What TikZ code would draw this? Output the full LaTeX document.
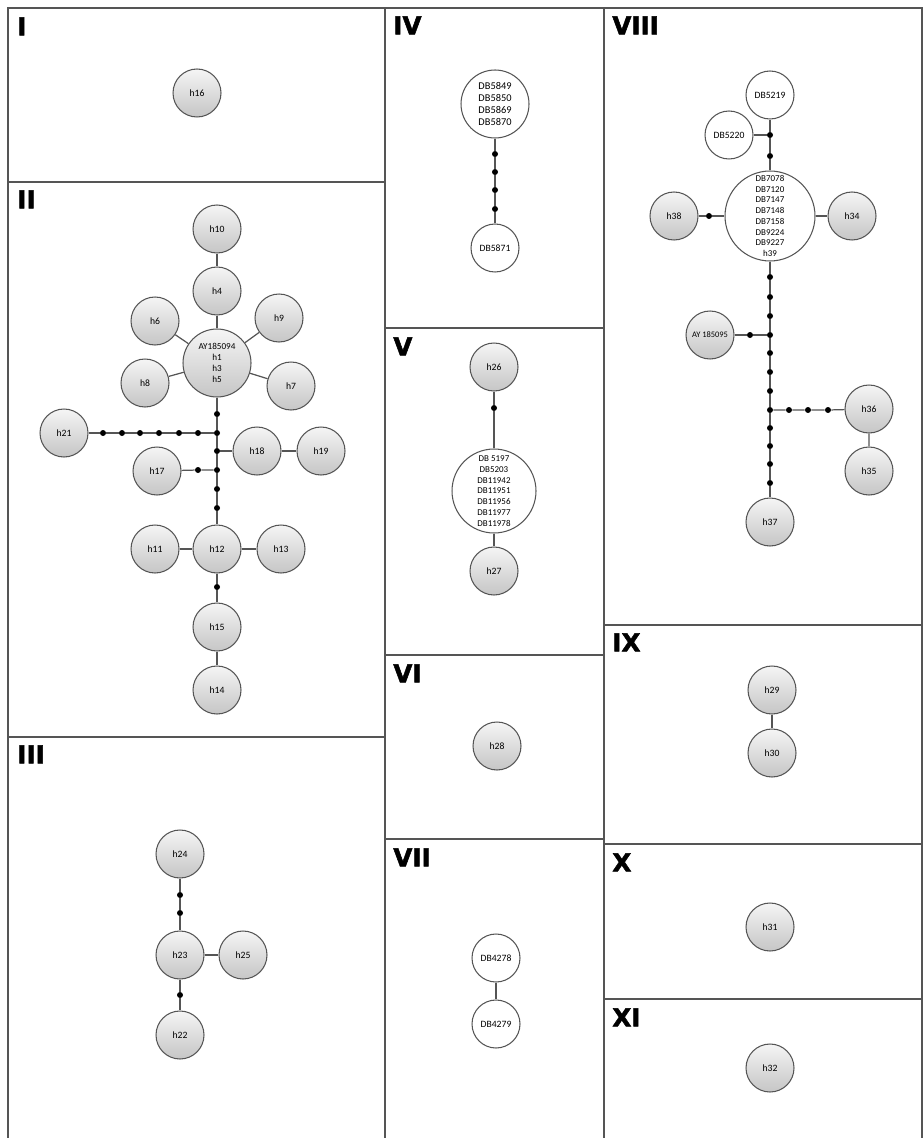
\documentclass[tikz,border=0pt]{standalone}
\usepackage{fontspec}
\setmainfont{Carlito}
\newfontfamily\panelfont[FakeBold=2]{DejaVu Sans Bold}
\usepackage{tikz}
\usetikzlibrary{positioning}
\usepackage{xcolor}

\definecolor{edgegray}{HTML}{555555}
\tikzset{
  frame/.style={draw=edgegray, line width=0.75pt},
  link/.style={draw=edgegray, line width=0.7pt},
  hap/.style={circle, draw=edgegray, line width=0.6pt, top color=gray!8,
    bottom color=gray!45, minimum size=0.96cm, inner sep=0pt,
    font=\fontsize{5.5}{6.5}\selectfont},
  seq/.style={circle, draw=edgegray, line width=0.6pt, fill=white,
    minimum size=0.96cm, inner sep=0pt, align=center,
    font=\fontsize{5.5}{6.5}\selectfont},
  mut/.style={circle, fill=black, minimum size=0.12cm, inner sep=0pt},
  numlab/.style={anchor=north west, inner sep=0pt,
    font=\panelfont\fontsize{14}{14}\selectfont}
}

\begin{document}
\begin{tikzpicture}[x=0.02cm, y=-0.02cm]
      \useasboundingbox (0,0) rectangle (923,1138);

      \draw[frame] (8,1138) -- (8,8) -- (922,8) -- (922,1138);
      \draw[frame] (385,8) -- (385,1138);
      \draw[frame] (604,8) -- (604,1138);
      \draw[frame] (8,182) -- (385,182);
      \draw[frame] (8,737) -- (385,737);
      \draw[frame] (385,328) -- (604,328);
      \draw[frame] (385,655) -- (604,655);
      \draw[frame] (385,839) -- (604,839);
      \draw[frame] (604,625) -- (922,625);
      \draw[frame] (604,844) -- (922,844);
      \draw[frame] (604,999) -- (922,999);

      \node[numlab] (lI) at (17,17) {I};
      \node[numlab] (lII) at (17,190) {II};
      \node[numlab] (lIII) at (17,745) {III};
      \node[numlab] (lIV) at (393,16) {IV};
      \node[numlab] (lV) at (393,337) {V};
      \node[numlab] (lVI) at (393,664) {VI};
      \node[numlab] (lVII) at (393,848) {VII};
      \node[numlab] (lVIII) at (612,16) {VIII};
      \node[numlab] (lIX) at (612,633) {IX};
      \node[numlab] (lX) at (612,853) {X};
      \node[numlab] (lXI) at (612,1008) {XI};

      % I
      \node[hap] (h16) at (197,93) {h16};

      % II
      \node[hap] (h10) at (217,229) {h10};
      \node[hap] (h4) at (217,291) {h4};
      \node[hap] (h6) at (155,321) {h6};
      \node[hap] (h9) at (279,318) {h9};
      \node[hap, minimum size=1.36cm, align=center,
        font=\fontsize{5.2}{6.2}\selectfont] (hub2) at (217,363)
        {AY185094\\h1\\h3\\h5};
      \node[hap] (h8) at (145,383) {h8};
      \node[hap] (h7) at (291,386) {h7};
      \node[mut] (m1) at (217,414) {};
      \node[mut] (m2) at (217,433) {};
      \node[mut] (m3) at (217,451) {};
      \node[mut] (m4) at (217,470) {};
      \node[mut] (m5) at (217,489) {};
      \node[mut] (m6) at (217,508) {};
      \node[hap] (h12) at (217,549) {h12};
      \node[hap] (h21) at (64,433) {h21};
      \node[mut] (n1) at (103,433) {};
      \node[mut] (n2) at (122,433) {};
      \node[mut] (n3) at (140,433) {};
      \node[mut] (n4) at (159,433) {};
      \node[mut] (n5) at (179,433) {};
      \node[mut] (n6) at (198,433) {};
      \node[hap] (h18) at (257,451) {h18};
      \node[hap] (h19) at (321,451) {h19};
      \node[hap] (h17) at (157,471) {h17};
      \node[mut] (n7) at (198,470) {};
      \node[hap] (h11) at (155,549) {h11};
      \node[hap] (h13) at (281,549) {h13};
      \node[mut] (m7) at (217,587) {};
      \node[hap] (h15) at (217,627) {h15};
      \node[hap] (h14) at (217,690) {h14};
      \draw[link] (h10) -- (h4) -- (hub2);
      \draw[link] (h6) -- (hub2);
      \draw[link] (h9) -- (hub2);
      \draw[link] (h8) -- (hub2);
      \draw[link] (h7) -- (hub2);
      \draw[link] (hub2) -- (m1) -- (m2) -- (m3) -- (m4) -- (m5) -- (m6) -- (h12);
      \draw[link] (h21) -- (n1) -- (n2) -- (n3) -- (n4) -- (n5) -- (n6) -- (m2);
      \draw[link] (m3) -- (h18) -- (h19);
      \draw[link] (h17) -- (n7) -- (m4);
      \draw[link] (h11) -- (h12) -- (h13);
      \draw[link] (h12) -- (m7) -- (h15) -- (h14);

      % III
      \node[hap] (h24) at (180,854) {h24};
      \node[mut] (p1) at (180,895) {};
      \node[mut] (p2) at (180,913) {};
      \node[hap] (h23) at (180,955) {h23};
      \node[hap] (h25) at (243,955) {h25};
      \node[mut] (p3) at (180,995) {};
      \node[hap] (h22) at (180,1035) {h22};
      \draw[link] (h24) -- (p1) -- (p2) -- (h23) -- (h25);
      \draw[link] (h23) -- (p3) -- (h22);

      % IV
      \node[seq, minimum size=1.36cm, font=\fontsize{5.9}{7}\selectfont]
        (hub4) at (495,104) {DB5849\\DB5850\\DB5869\\DB5870};
      \node[mut] (q1) at (495,154) {};
      \node[mut] (q2) at (495,172) {};
      \node[mut] (q3) at (495,190) {};
      \node[mut] (q4) at (495,209) {};
      \node[seq] (db5871) at (495,248) {DB5871};
      \draw[link] (hub4) -- (q1) -- (q2) -- (q3) -- (q4) -- (db5871);

      % V
      \node[hap] (h26) at (494,367) {h26};
      \node[mut] (r1) at (494,408) {};
      \node[seq, minimum size=1.68cm, font=\fontsize{5.1}{6.1}\selectfont]
        (hub5) at (494,491)
        {DB 5197\\DB5203\\DB11942\\DB11951\\DB11956\\DB11977\\DB11978};
      \node[hap] (h27) at (494,571) {h27};
      \draw[link] (h26) -- (r1) -- (hub5) -- (h27);

      % VI
      \node[hap] (h28) at (497,746) {h28};

      % VII
      \node[seq] (db4278) at (496,958) {DB4278};
      \node[seq] (db4279) at (496,1024) {DB4279};
      \draw[link] (db4278) -- (db4279);

      % VIII
      \node[seq] (db5219) at (770,95) {DB5219};
      \node[seq] (db5220) at (729,135) {DB5220};
      \node[mut] (s1) at (770,135) {};
      \node[mut] (s2) at (770,156) {};
      \node[seq, minimum size=1.8cm, font=\fontsize{5.1}{6.1}\selectfont]
        (hub8) at (770,216)
        {DB7078\\DB7120\\DB7147\\DB7148\\DB7158\\DB9224\\DB9227\\h39};
      \node[hap] (h38) at (674,216) {h38};
      \node[mut] (s3) at (709,216) {};
      \node[hap] (h34) at (852,216) {h34};
      \node[mut] (t1) at (770,277) {};
      \node[mut] (t2) at (770,297) {};
      \node[mut] (t3) at (770,316) {};
      \node[mut] (t4) at (770,335) {};
      \node[mut] (t5) at (770,353) {};
      \node[mut] (t6) at (770,372) {};
      \node[mut] (t7) at (770,391) {};
      \node[mut] (t8) at (770,410) {};
      \node[mut] (t9) at (770,428) {};
      \node[mut] (t10) at (770,446) {};
      \node[mut] (t11) at (770,464) {};
      \node[mut] (t12) at (770,483) {};
      \node[hap] (h37) at (770,522) {h37};
      \node[hap, font=\fontsize{4.8}{5.8}\selectfont] (ay) at (710,335)
        {AY 185095};
      \node[mut] (s4) at (750,335) {};
      \node[mut] (u1) at (789,410) {};
      \node[mut] (u2) at (808,410) {};
      \node[mut] (u3) at (828,410) {};
      \node[hap] (h36) at (869,409) {h36};
      \node[hap] (h35) at (869,471) {h35};
      \draw[link] (db5219) -- (s1) -- (s2) -- (hub8);
      \draw[link] (db5220) -- (s1);
      \draw[link] (h38) -- (s3) -- (hub8) -- (h34);
      \draw[link] (hub8) -- (t1) -- (t2) -- (t3) -- (t4) -- (t5) -- (t6) -- (t7)
        -- (t8) -- (t9) -- (t10) -- (t11) -- (t12) -- (h37);
      \draw[link] (ay) -- (s4) -- (t4);
      \draw[link] (t8) -- (u1) -- (u2) -- (u3) -- (h36) -- (h35);

      % IX
      \node[hap] (h29) at (772,690) {h29};
      \node[hap] (h30) at (772,753) {h30};
      \draw[link] (h29) -- (h30);

      % X
      \node[hap] (h31) at (770,927) {h31};

      % XI
      \node[hap] (h32) at (770,1068) {h32};
    \end{tikzpicture}
\end{document}
